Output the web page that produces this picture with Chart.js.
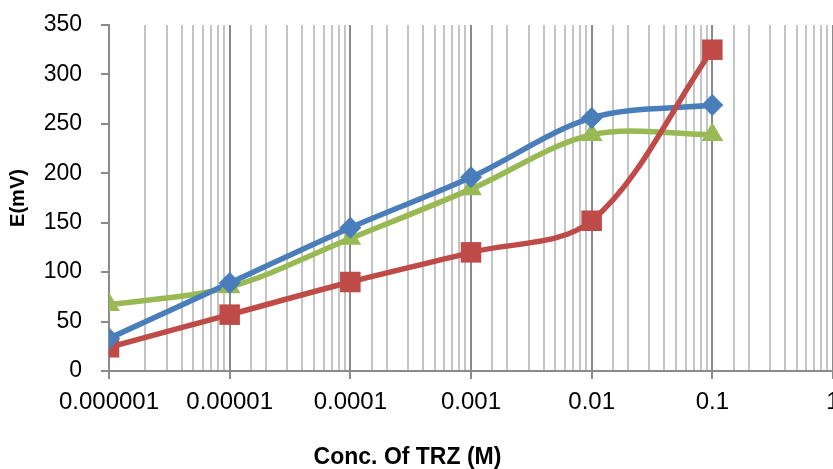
<!DOCTYPE html>
<html>
<head>
<meta charset="utf-8">
<script src="https://cdn.jsdelivr.net/npm/chart.js@4/dist/chart.umd.min.js"></script>
<style>
    html, body { margin: 0; padding: 0; background: #fff; overflow: hidden; }
    canvas { display: block; }
</style>
</head>
<body>
<canvas id="eChart" width="833" height="469"></canvas>
<script>
// concentrations of TRZ (M)
const conc = [0.000001, 0.00001, 0.0001, 0.001, 0.01, 0.1];
// potential readings (mV) for the three series
const blueE = [33, 89, 145, 196, 256, 269];
const redE = [24, 57, 90, 120, 152, 325];
const greenE = [67, 85, 134, 184, 239, 239];

const toPoints = (ys) => conc.map((c, i) => ({ x: c, y: ys[i] }));

const blue = '#4a7ebb';
const red = '#be4b48';
const green = '#98b954';
const majorGrid = '#8a8a8a';
const minorGrid = '#c4c4c4';

// Excel draws every line first and the markers on top, so lines and markers are split
function lineSet(ys, color, order) {
    return {
        data: toPoints(ys),
        borderColor: color,
        borderWidth: 5.5,
        pointRadius: 0,
        tension: 0.33,
        order: order
    };
}

function markerSet(ys, color, style, radius, order) {
    return {
        data: toPoints(ys),
        showLine: false,
        backgroundColor: color,
        borderColor: color,
        borderWidth: 0,
        pointStyle: style,
        pointRadius: radius,
        order: order
    };
}

// the x title is centred a bit left of the middle of the picture
const shiftTitle = {
    id: 'shiftTitle',
    afterLayout(chart) {
        const t = chart.titleBlock;
        if (t) {
            t.left -= 9;
            t.right -= 9;
        }
    }
};

document.addEventListener('DOMContentLoaded', () => {
    const ctx = document.getElementById('eChart').getContext('2d');

    const chart = new Chart(ctx, {
        type: 'line',
        data: {
            datasets: [
                lineSet(greenE, green, 6),
                lineSet(blueE, blue, 5),
                lineSet(redE, red, 4),
                markerSet(greenE, green, 'triangle', 12.5, 3),
                markerSet(redE, red, 'rect', 14.5, 2),
                markerSet(blueE, blue, 'rectRot', 11, 1)
            ]
        },
        plugins: [shiftTitle],
        options: {
            responsive: false,
            animation: false,
            layout: {
                autoPadding: false,
                padding: { top: 25, right: 0, bottom: 0, left: 0 }
            },
            plugins: {
                legend: { display: false },
                tooltip: { enabled: false },
                title: {
                    display: true,
                    position: 'bottom',
                    text: 'Conc. Of TRZ (M)',
                    color: '#000',
                    font: { family: 'Liberation Sans', size: 23, weight: 'bold', lineHeight: 1 },
                    padding: { top: 0, bottom: 0 }
                }
            },
            scales: {
                x: {
                    type: 'logarithmic',
                    min: 0.000001,
                    max: 1,
                    border: { color: majorGrid, width: 2 },
                    grid: {
                        color: (c) => (c.tick && c.tick.major) ? majorGrid : minorGrid,
                        lineWidth: 2,
                        tickColor: (c) => (c.tick && c.tick.major) ? majorGrid : 'rgba(0,0,0,0)',
                        tickLength: 8
                    },
                    ticks: {
                        autoSkip: false,
                        maxRotation: 0,
                        padding: 9,
                        color: '#000',
                        font: { family: 'Liberation Sans', size: 24 },
                        callback: (value) => {
                            const p = Math.log10(value);
                            if (Math.abs(p - Math.round(p)) > 1e-9) return '';
                            const d = Math.max(0, -Math.round(p));
                            return Number(value).toFixed(d);
                        }
                    },
                    afterFit: (scale) => {
                        scale.height = 75;
                        scale.paddingLeft = 0;
                        scale.paddingRight = 0;
                    }
                },
                y: {
                    min: 0,
                    max: 350,
                    border: { color: majorGrid, width: 2 },
                    grid: {
                        drawOnChartArea: false,
                        color: majorGrid,
                        lineWidth: 2,
                        tickLength: 8
                    },
                    ticks: {
                        stepSize: 50,
                        padding: 19,
                        color: '#000',
                        font: { family: 'Liberation Sans', size: 23 }
                    },
                    title: {
                        display: true,
                        text: 'E(mV)',
                        color: '#000',
                        font: { family: 'Liberation Sans', size: 20, weight: 'bold', lineHeight: 1 },
                        padding: { top: 8, bottom: 0 }
                    },
                    afterFit: (scale) => {
                        scale.width = 109;
                        scale.paddingTop = 0;
                        scale.paddingBottom = 0;
                    }
                }
            }
        }
    });
});
</script>
</body>
</html>
